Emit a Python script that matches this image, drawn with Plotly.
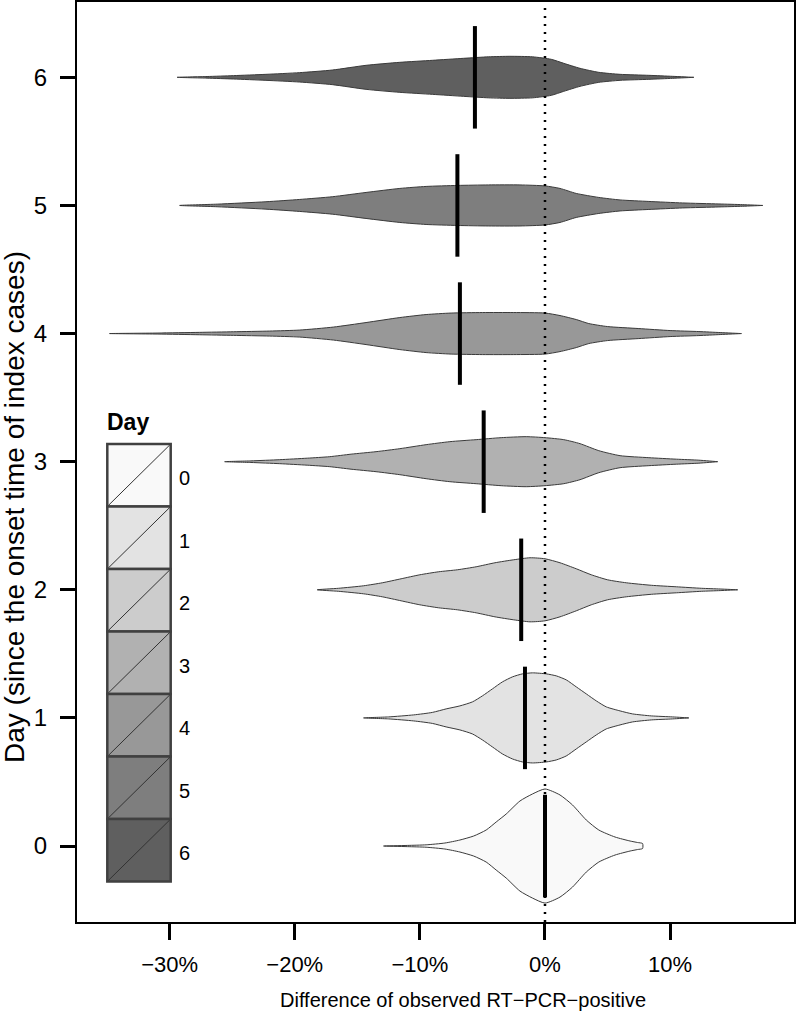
import plotly.graph_objects as go

# ---------------- data ----------------
days = [0, 1, 2, 3, 4, 5, 6]
medians = [0.0, -1.6, -1.9, -4.9, -6.8, -7.0, -5.6]

# violin profiles: x positions (%) and relative density (half-width)
x0 = [-12.9, -11.0, -9.5, -8.0, -6.8, -5.7, -4.7, -3.9, -3.1, -2.0, -1.0, 0.0, 1.2, 2.2, 3.3, 4.3, 5.6, 6.8, 7.4, 7.8]
d0 = [0, 0.6, 1.2, 3, 6, 10, 16, 24, 32, 45, 52, 57, 51, 41, 26, 16, 9, 5, 3.5, 2.5]

x1 = [-14.5, -12.5, -10.5, -9.0, -7.9, -6.8, -5.8, -5.0, -4.2, -3.4, -2.6, -1.8, -1.0, 0.1, 0.9, 1.7, 2.5, 3.3, 4.1, 4.9, 6.0, 7.0, 8.5, 10.2, 11.5]
d1 = [0, 1, 3, 5.5, 9, 12, 16, 22, 29, 36, 41, 44, 45, 44, 42, 38, 31, 24, 17, 11, 7, 4, 2, 1, 0]

x2 = [-18.2, -16.5, -14.5, -13.0, -11.5, -10.0, -8.5, -7.0, -5.5, -4.0, -2.5, -1.2, 0.0, 1.2, 2.5, 3.7, 5.0, 6.5, 8.5, 10.5, 12.5, 14.0, 15.4]
d2 = [0, 1.5, 4, 7, 11, 15, 18, 20, 23, 27, 30, 32, 31, 27, 21, 15, 10, 7, 4.5, 3, 1.5, 0.8, 0]

x3 = [-25.6, -23.5, -21.2, -19.0, -17.2, -15.5, -13.5, -11.6, -9.5, -7.6, -5.5, -3.5, -1.5, 0.0, 1.5, 2.8, 4.3, 6.0, 8.3, 10.5, 12.3, 13.8]
d3 = [0, 0.8, 2, 3.5, 5, 7.5, 10, 13, 17, 20, 22, 24, 25, 24, 22, 18, 11, 6, 4, 2.5, 1.5, 0]

x4 = [-34.8, -31.0, -27.6, -24.9, -22.0, -19.6, -16.9, -14.3, -11.6, -9.5, -7.5, -5.0, -2.5, 0.0, 1.2, 2.5, 3.5, 5.0, 7.5, 10.0, 12.3, 14.0, 15.7]
d4 = [0, 0.5, 1.2, 1.8, 2.5, 3.5, 6.5, 11, 16, 19, 20.5, 21, 21, 20.5, 18, 14, 10, 7, 5, 3, 2, 1, 0]

x5 = [-29.2, -26.2, -22.3, -19.6, -17.0, -14.3, -11.6, -9.5, -7.0, -4.5, -2.0, 0.0, 1.2, 2.5, 4.3, 6.0, 8.3, 11.0, 13.9, 15.8, 17.4]
d5 = [0, 1.3, 3.7, 6, 8.7, 13, 17, 19, 20, 20.5, 20.5, 19.5, 17, 12, 8, 5.5, 4, 2.5, 1.5, 0.8, 0]

x6 = [-29.4, -27.0, -24.9, -22.3, -19.6, -17.0, -14.3, -11.6, -9.0, -6.5, -4.5, -2.8, -1.0, 0.5, 1.5, 2.8, 4.3, 6.0, 8.3, 10.2, 11.9]
d6 = [0, 0.8, 1.7, 3, 4.7, 7.3, 12, 15, 17, 19, 20.5, 21, 20.5, 18, 14, 9, 5, 3, 2, 1, 0]

profiles_x = [x0, x1, x2, x3, x4, x5, x6]
profiles_d = [d0, d1, d2, d3, d4, d5, d6]

x_ticks = [-30, -20, -10, 0, 10]
x_tick_labels = ["\u221230%", "\u221220%", "\u221210%", "0%", "10%"]
y_ticks = [0, 1, 2, 3, 4, 5, 6]

fills = ["#F9F9F9", "#E3E3E3", "#CCCCCC", "#B1B1B1", "#989898", "#7E7E7E", "#5F5F5F"]

# ---------------- style ----------------
DENS_SCALE = 1 / 128.0
MED_HALF = 0.40
X_RANGE = [-37.4, 19.9]
Y_RANGE = [-0.593, 6.588]
FONT = "Liberation Sans, Arial, sans-serif"

fig = go.Figure()

for day, xs, ds, col in zip(days, profiles_x, profiles_d, fills):
    up = [day + d * DENS_SCALE for d in ds]
    lo = [day - d * DENS_SCALE for d in ds]
    fig.add_trace(go.Scatter(
        x=xs + xs[::-1], y=up + lo[::-1],
        fill="toself", fillcolor=col, mode="lines",
        line=dict(color="#3a3a3a", width=1, shape="spline", smoothing=0.6),
        hoverinfo="skip", showlegend=False))

for day, m in zip(days, medians):
    fig.add_trace(go.Scatter(
        x=[m, m], y=[day - MED_HALF, day + MED_HALF], mode="lines",
        line=dict(color="black", width=4), showlegend=False, hoverinfo="skip"))

fig.add_trace(go.Scatter(
    x=[0, 0], y=Y_RANGE, mode="lines",
    line=dict(color="black", width=2.5, dash="2px,6px"),
    showlegend=False, hoverinfo="skip"))

# ---------------- layout ----------------
L, R, T, B = 77, 2, 2, 95
W, H = 796, 1017
pw, ph = W - L - R, H - T - B


def px(xp):
    return (xp - L) / pw


def py(yp):
    return (H - B - yp) / ph


shapes = []
annotations = []
box_x0, box_x1 = 107.3, 170.7
box_top0, box_h = 444.0, 62.5
for i, col in enumerate(fills):
    top = box_top0 + i * box_h
    bot = top + box_h
    shapes.append(dict(type="rect", xref="paper", yref="paper",
                       x0=px(box_x0), x1=px(box_x1), y0=py(bot), y1=py(top),
                       fillcolor=col, line=dict(color="#404040", width=2.5)))
    shapes.append(dict(type="line", xref="paper", yref="paper",
                       x0=px(box_x0 + 1), y0=py(bot - 1), x1=px(box_x1 - 1), y1=py(top + 1),
                       line=dict(color="#333333", width=1)))
    annotations.append(dict(xref="paper", yref="paper", x=px(177), y=py(top + box_h / 2 + 3),
                            text=str(days[i]), showarrow=False, xanchor="left", yanchor="middle",
                            font=dict(family=FONT, size=20, color="black")))

annotations.append(dict(xref="paper", yref="paper", x=px(105), y=py(422),
                        text="<b>Day</b>", showarrow=False, xanchor="left", yanchor="middle",
                        font=dict(family=FONT, size=23, color="black")))
annotations.append(dict(xref="paper", yref="paper", x=px(463), y=py(1000),
                        text="Difference of observed RT\u2212PCR\u2212positive", showarrow=False,
                        xanchor="center", yanchor="middle",
                        font=dict(family=FONT, size=20, color="black")))
annotations.append(dict(xref="paper", yref="paper", x=px(14), y=py(507),
                        text="Day (since the onset time of index cases)", showarrow=False,
                        textangle=-90, xanchor="center", yanchor="middle",
                        font=dict(family=FONT, size=28, color="black")))

fig.update_layout(
    width=W, height=H,
    margin=dict(l=L, r=R, t=T, b=B, pad=0, autoexpand=False),
    paper_bgcolor="white", plot_bgcolor="white",
    shapes=shapes, annotations=annotations,
    showlegend=False,
    xaxis=dict(range=X_RANGE, tickvals=x_ticks, ticktext=x_tick_labels,
               showgrid=False, zeroline=False, showline=True, linecolor="black",
               linewidth=2, mirror=True, ticks="outside", ticklen=16, tickwidth=3,
               tickcolor="black", ticklabelstandoff=6, automargin=False,
               tickfont=dict(family=FONT, size=22, color="black")),
    yaxis=dict(range=Y_RANGE, tickvals=y_ticks,
               showgrid=False, zeroline=False, showline=True, linecolor="black",
               linewidth=2, mirror=True, ticks="outside", ticklen=15, tickwidth=3,
               tickcolor="black", ticklabelstandoff=8, automargin=False,
               tickfont=dict(family=FONT, size=24, color="black")),
)

fig.write_html("out.html",
               config={"displayModeBar": False},
               post_script="document.body.style.margin='0';document.body.style.padding='0';")
